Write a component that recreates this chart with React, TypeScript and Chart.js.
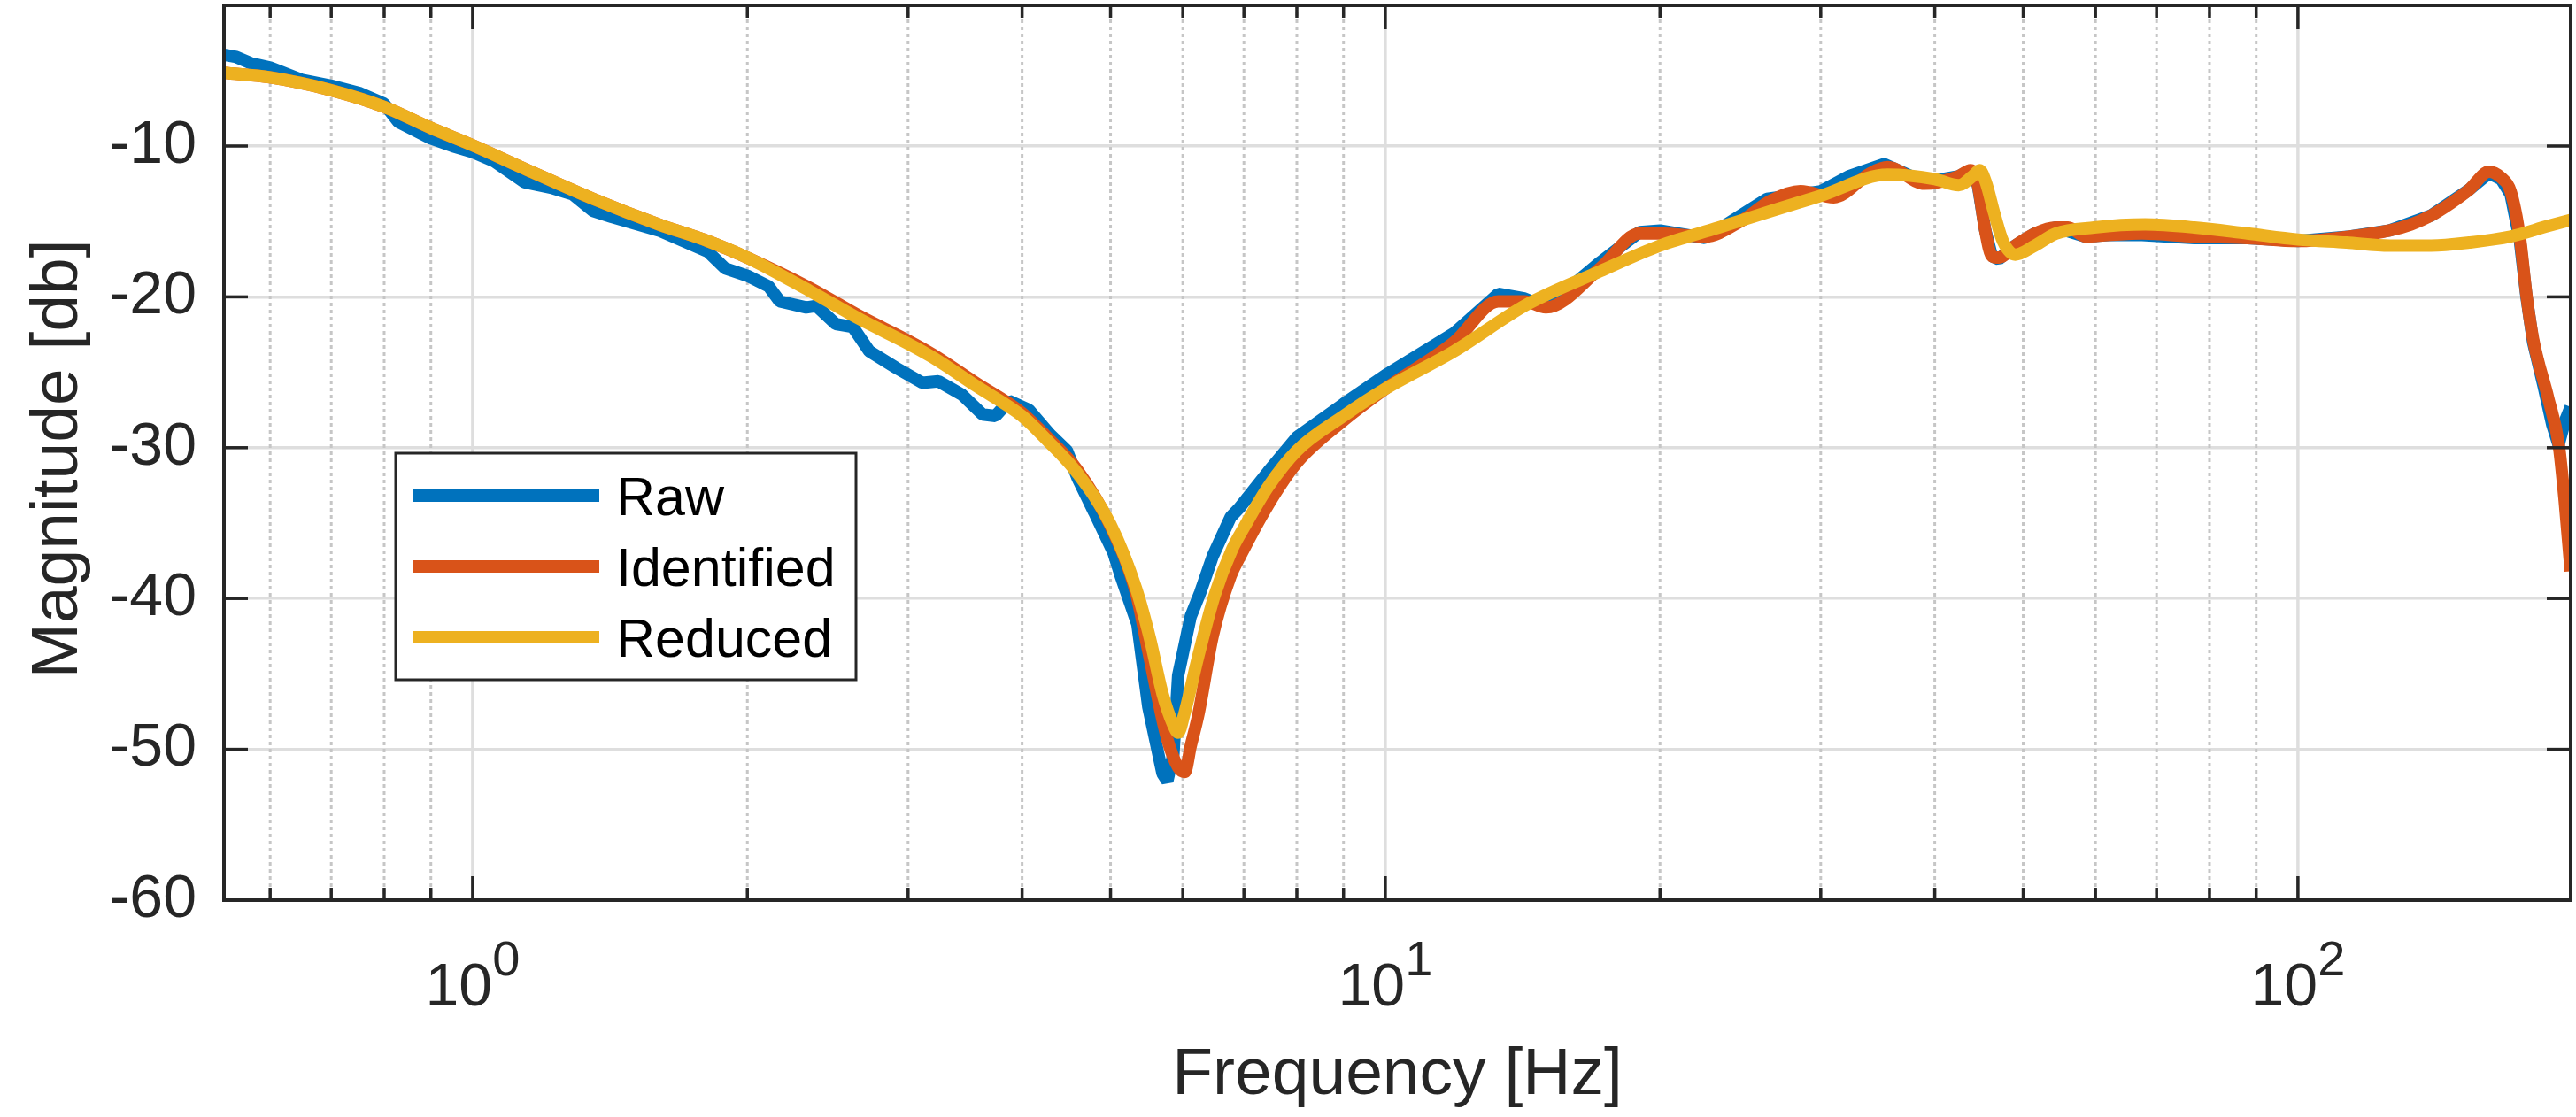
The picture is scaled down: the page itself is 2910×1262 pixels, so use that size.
import React, { useEffect, useRef } from "react";
import { Chart, registerables } from "chart.js";

Chart.register(...registerables);

// Raw measured response
const rawFreq = [
  0.534, 0.551, 0.571, 0.6, 0.649, 0.7, 0.753, 0.8, 0.829, 0.9, 0.95, 1.0, 1.055, 1.14, 1.225, 1.287,
  1.355, 1.42, 1.6, 1.81, 1.89, 2.0, 2.11, 2.17, 2.32, 2.38, 2.5, 2.61, 2.72, 2.91, 3.11, 3.24, 3.44,
  3.62, 3.74, 3.87, 4.07, 4.29, 4.48, 4.6, 4.8, 5.04, 5.13, 5.35, 5.5, 5.7, 5.77, 5.86, 5.93, 6.12,
  6.27, 6.47, 6.77, 6.92, 7.44, 8, 9, 10, 11.9, 13.3, 14.2, 15.0, 17.2, 19.0, 20, 22.4, 26.2, 30, 32.2,
  35.2, 39, 42.5, 43.8, 44.6, 45.4, 46.2, 47.0, 49, 51.5, 54.3, 58.5, 62, 67.5, 77, 88, 100, 114, 126,
  140, 154, 162, 167, 171, 175, 178, 181, 186, 190, 193, 196, 199,
];
const rawMag = [
  -3.95, -4.1, -4.5, -4.8, -5.6, -6.0, -6.5, -7.2, -8.4, -9.5, -10.0, -10.4, -11.0, -12.4, -12.8, -13.2,
  -14.3, -14.7, -15.6, -17.0, -18.1, -18.6, -19.3, -20.3, -20.7, -20.6, -21.8, -22.0, -23.6, -24.7,
  -25.7, -25.6, -26.5, -27.8, -27.9, -26.9, -27.5, -29.1, -30.2, -32.0, -34.3, -37.0, -38.5, -41.7,
  -47.2, -51.6, -52.1, -50.3, -45.1, -41.2, -39.6, -37.2, -34.6, -34.0, -31.6, -29.3, -27.1, -25.2,
  -22.4, -19.8, -20.1, -20.7, -17.7, -15.7, -15.6, -16.1, -13.5, -13.0, -12.0, -11.2, -12.4, -12.0,
  -11.6, -12.6, -15.5, -17.3, -17.5, -16.6, -15.8, -15.4, -16.0, -15.9, -15.9, -16.1, -16.1, -16.3,
  -16.0, -15.6, -14.6, -12.9, -11.8, -12.2, -13.2, -16.2, -20.0, -23.0, -26.0, -28.5, -29.8, -28.3,
  -27.3,
];

// Identified model
const identifiedFreq = [
  0.534, 0.6, 0.7, 0.8, 0.9, 1.0, 1.14, 1.355, 1.6, 1.81, 2.0, 2.34, 2.66, 3.0, 3.19, 3.56, 4.0, 4.26,
  4.6, 5.0, 5.33, 5.5, 5.75, 5.93, 6.03, 6.12, 6.24, 6.47, 6.77, 6.92, 7.44, 8, 9, 10, 11.9, 13.3,
  14.2, 15.0, 17.2, 19.0, 20, 22.4, 24.5, 26.5, 28.5, 31, 34, 35.5, 39, 42.5, 43.8, 44.6, 45.4, 46.2,
  47.0, 49, 51.5, 54.3, 56, 58.5, 62, 67.5, 77, 88, 100, 114, 126, 133, 140, 147, 154, 162, 167, 171,
  175, 178, 181, 188, 193, 196, 199,
];
const identifiedMag = [
  -5.15, -5.45, -6.3, -7.4, -8.8, -9.95, -11.5, -13.5, -15.2, -16.3, -17.4, -19.4, -21.3, -22.9, -23.8,
  -25.7, -27.7, -29.3, -31.5, -35.2, -39.6, -43.5, -49.0, -51.2, -51.5, -49.8, -47.7, -42.5, -38.5,
  -37.3, -33.8, -31.0, -28.2, -26.1, -23.0, -20.3, -20.3, -20.7, -18.1, -15.8, -15.8, -16.0, -15.0,
  -13.6, -13.0, -13.4, -11.8, -11.4, -12.5, -12.0, -11.6, -12.6, -15.5, -17.3, -17.4, -16.6, -15.8,
  -15.4, -15.4, -16.0, -15.9, -15.8, -16.0, -16.1, -16.3, -16.0, -15.6, -15.2, -14.6, -13.8, -12.9,
  -11.7, -12.1, -13.0, -16.0, -19.9, -22.8, -26.7, -29.7, -33.5, -38.2,
];

// Reduced-order model
const reducedFreq = [
  0.534, 0.6, 0.7, 0.8, 0.9, 1.0, 1.14, 1.355, 1.6, 1.81, 2.0, 2.34, 2.66, 3.0, 3.19, 3.56, 4.0, 4.26,
  4.6, 5.0, 5.33, 5.52, 5.7, 5.85, 5.93, 6.02, 6.24, 6.5, 6.8, 7.0, 7.44, 8, 9, 10, 11.9, 14.3, 17.2,
  20, 23.2, 26.5, 30, 35.5, 40, 42.5, 44.0, 44.8, 45.5, 46.5, 47.5, 49, 51.5, 54.3, 59.8, 68, 77, 88,
  100, 113, 126, 140, 154, 171, 188, 199,
];
const reducedMag = [
  -5.15, -5.45, -6.3, -7.4, -8.8, -9.95, -11.5, -13.5, -15.2, -16.3, -17.4, -19.6, -21.5, -23.1, -24.0,
  -25.9, -27.9, -29.5, -31.7, -35.1, -39.3, -42.6, -46.3, -48.3, -48.9, -47.7, -43.8, -39.8, -36.7,
  -35.3, -32.6, -30.2, -27.9, -26.1, -23.6, -20.5, -18.3, -16.6, -15.4, -14.3, -13.3, -11.9, -12.2,
  -12.6, -12.0, -11.6, -12.4, -14.5, -16.3, -17.2, -16.6, -15.8, -15.4, -15.2, -15.4, -15.8, -16.2,
  -16.4, -16.6, -16.6, -16.4, -16.0, -15.3, -14.9,
];

const xMin = 0.534;
const xMax = 199;
const yMin = -60;
const yMax = -0.67;
const yTicks = [-60, -50, -40, -30, -20, -10];
const xMajorTicks = [1, 10, 100];
const xMajorExponents = ["0", "1", "2"];
const xMinorTicks = [0.6, 0.7, 0.8, 0.9, 2, 3, 4, 5, 6, 7, 8, 9, 20, 30, 40, 50, 60, 70, 80, 90];

const FONT = "'Liberation Sans', Arial, Helvetica, sans-serif";
const AXIS = "#262626";

const toPoints = (fs: number[], ms: number[]) => fs.map((f, i) => ({ x: f, y: ms[i] }));

// grid, box, inward ticks, x labels, titles and legend in the MATLAB look
const axesPlugin = {
  id: "matlabAxes",
  beforeDatasetsDraw(chart: any) {
    const { ctx, chartArea: a } = chart;
    const x = chart.scales.x;
    ctx.save();
    ctx.lineWidth = 3;
    ctx.strokeStyle = "#c6c6c6";
    ctx.setLineDash([4, 4]);
    xMinorTicks.forEach((v) => {
      const px = x.getPixelForValue(v);
      ctx.beginPath();
      ctx.moveTo(px, a.top);
      ctx.lineTo(px, a.bottom);
      ctx.stroke();
    });
    ctx.setLineDash([]);
    ctx.strokeStyle = "#dedede";
    ctx.lineWidth = 3.5;
    xMajorTicks.forEach((v) => {
      const px = x.getPixelForValue(v);
      ctx.beginPath();
      ctx.moveTo(px, a.top);
      ctx.lineTo(px, a.bottom);
      ctx.stroke();
    });
    ctx.restore();
  },
  afterDraw(chart: any) {
    const { ctx, chartArea: a } = chart;
    const x = chart.scales.x;
    const y = chart.scales.y;
    ctx.save();

    // ticks
    ctx.strokeStyle = AXIS;
    ctx.lineWidth = 3.5;
    const tick = (x1: number, y1: number, x2: number, y2: number) => {
      ctx.beginPath();
      ctx.moveTo(x1, y1);
      ctx.lineTo(x2, y2);
      ctx.stroke();
    };
    xMinorTicks.forEach((v) => {
      const px = x.getPixelForValue(v);
      tick(px, a.bottom, px, a.bottom - 14);
      tick(px, a.top, px, a.top + 14);
    });
    xMajorTicks.forEach((v) => {
      const px = x.getPixelForValue(v);
      tick(px, a.bottom, px, a.bottom - 27);
      tick(px, a.top, px, a.top + 27);
    });
    yTicks.forEach((v) => {
      const py = y.getPixelForValue(v);
      tick(a.left, py, a.left + 27, py);
      tick(a.right, py, a.right - 27, py);
    });

    // box
    ctx.lineWidth = 4;
    ctx.strokeRect(a.left, a.top, a.right - a.left, a.bottom - a.top);

    // x tick labels 10^n
    ctx.fillStyle = AXIS;
    ctx.textAlign = "left";
    ctx.textBaseline = "alphabetic";
    xMajorTicks.forEach((v, i) => {
      const px = x.getPixelForValue(v);
      ctx.font = `68px ${FONT}`;
      const wb = ctx.measureText("10").width;
      ctx.font = `56px ${FONT}`;
      const ws = ctx.measureText(xMajorExponents[i]).width;
      const start = px - (wb + ws) / 2;
      ctx.font = `68px ${FONT}`;
      ctx.fillText("10", start, a.bottom + 119);
      ctx.font = `56px ${FONT}`;
      ctx.fillText(xMajorExponents[i], start + wb, a.bottom + 85);
    });

    // axis titles
    ctx.font = `75px ${FONT}`;
    ctx.textAlign = "center";
    ctx.fillText("Frequency [Hz]", (a.left + a.right) / 2, a.bottom + 219);
    ctx.save();
    ctx.translate(87, (a.top + a.bottom) / 2 + 7);
    ctx.rotate(-Math.PI / 2);
    ctx.fillText("Magnitude [db]", 0, 0);
    ctx.restore();

    // legend
    const lx = a.left + 194;
    const ly = a.top + 506;
    ctx.fillStyle = "#ffffff";
    ctx.fillRect(lx, ly, 520, 256);
    ctx.strokeStyle = AXIS;
    ctx.lineWidth = 3;
    ctx.strokeRect(lx, ly, 520, 256);
    ctx.font = `61px ${FONT}`;
    ctx.textAlign = "left";
    ctx.textBaseline = "middle";
    chart.data.datasets.forEach((ds: any, i: number) => {
      const cy = ly + 48 + i * 80;
      ctx.strokeStyle = ds.borderColor;
      ctx.lineWidth = 14;
      ctx.lineCap = "butt";
      ctx.beginPath();
      ctx.moveTo(lx + 20, cy);
      ctx.lineTo(lx + 230, cy);
      ctx.stroke();
      ctx.fillStyle = "#000000";
      ctx.fillText(ds.label, lx + 249, cy + 5);
    });

    ctx.restore();
  },
};

export default function App() {
  const canvasRef = useRef<HTMLCanvasElement | null>(null);

  useEffect(() => {
    if (!canvasRef.current) return;

    const chart = new Chart(canvasRef.current, {
      type: "line",
      data: {
        datasets: [
          {
            label: "Raw",
            data: toPoints(rawFreq, rawMag),
            borderColor: "#0072BD",
            borderWidth: 14,
            pointRadius: 0,
            tension: 0,
            borderJoinStyle: "bevel",
            order: 3,
            clip: 0,
          },
          {
            label: "Identified",
            data: toPoints(identifiedFreq, identifiedMag),
            borderColor: "#D95319",
            borderWidth: 14,
            pointRadius: 0,
            cubicInterpolationMode: "monotone",
            borderJoinStyle: "round",
            order: 2,
            clip: 0,
          },
          {
            label: "Reduced",
            data: toPoints(reducedFreq, reducedMag),
            borderColor: "#EDB120",
            borderWidth: 14,
            pointRadius: 0,
            cubicInterpolationMode: "monotone",
            borderJoinStyle: "round",
            order: 1,
            clip: 0,
          },
        ],
      },
      options: {
        animation: false,
        responsive: false,
        devicePixelRatio: 1,
        layout: { padding: { top: 6, right: 6, left: 0, bottom: 0 } },
        plugins: {
          legend: { display: false },
          tooltip: { enabled: false },
        },
        scales: {
          x: {
            type: "logarithmic",
            min: xMin,
            max: xMax,
            ticks: { display: false },
            grid: { display: false },
            border: { display: false },
            afterFit: (s: any) => {
              s.height = 245;
            },
          },
          y: {
            type: "linear",
            min: yMin,
            max: yMax,
            afterBuildTicks: (s: any) => {
              s.ticks = yTicks.map((v) => ({ value: v }));
            },
            ticks: {
              autoSkip: false,
              padding: 31,
              color: AXIS,
              font: { family: FONT, size: 68 },
              callback: (v: any) => String(v),
            },
            grid: { color: "#dedede", lineWidth: 3.5, drawTicks: false },
            border: { display: false },
            afterFit: (s: any) => {
              s.width = 253;
              s.paddingTop = 0;
              s.paddingBottom = 0;
            },
          },
        },
      },
      plugins: [axesPlugin],
    } as any);

    return () => chart.destroy();
  }, []);

  return (
    <div style={{ position: "absolute", left: 0, top: 0, width: 2910, height: 1262, background: "#ffffff" }}>
      <canvas ref={canvasRef} width={2910} height={1262} style={{ display: "block" }} />
    </div>
  );
}
